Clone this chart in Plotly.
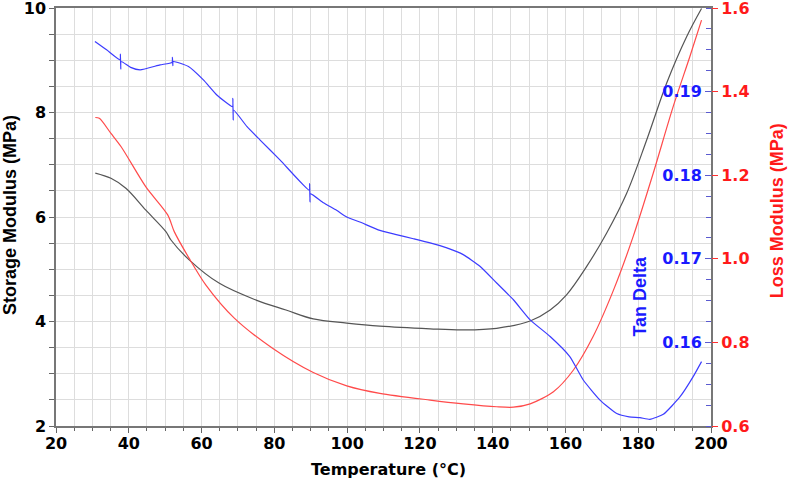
import plotly.graph_objects as go

# Storage modulus (MPa)
t_storage = [30.8, 35.1, 39.2, 44.7, 50.2, 51.6, 56.6, 64.9, 75, 83.2, 90.7, 99.9, 109, 122.8,
             131.9, 141.1, 150.3, 155.8, 160.3, 165.8, 171.3, 176.8, 182.3, 187.8, 193.3, 197.4]
storage = [6.84, 6.74, 6.55, 6.13, 5.72, 5.56, 5.18, 4.73, 4.41, 4.22, 4.05, 3.97, 3.91, 3.86,
           3.84, 3.87, 4.01, 4.22, 4.51, 5.05, 5.69, 6.45, 7.47, 8.56, 9.45, 9.99]

# Loss modulus (MPa)
t_loss = [30.8, 31.9, 35.1, 37.9, 44.7, 50.7, 52.5, 56.6, 61.2, 69, 79.5, 90.7, 99.9, 109, 122.8,
          131.9, 141.1, 145.7, 150.3, 156.7, 162.2, 167.6, 173.2, 178.6, 184.1, 189.6, 194.2, 197.4]
loss = [1.338, 1.336, 1.300, 1.268, 1.172, 1.105, 1.065, 1.001, 0.937, 0.858, 0.786, 0.728, 0.696,
        0.678, 0.662, 0.653, 0.646, 0.645, 0.653, 0.682, 0.734, 0.814, 0.925, 1.053, 1.204, 1.364,
        1.484, 1.571]

# Tan delta
t_tan = [30.7, 33.9, 37.6, 37.7, 37.8, 37.9, 40.5, 43.1, 48.6, 51.9, 52.0, 52.1, 52.2, 56.4,
         60.5, 64.2, 68.5, 68.6, 68.7, 68.8, 72.5, 76.1, 81.6, 89.6, 89.7, 89.8, 89.9, 93.5,
         97.1, 99.9, 103.5, 109, 113.5, 118.2, 122.8, 127.4, 131.9, 136.5, 141.1, 145.7, 150.3,
         155.8, 161.2, 164.9, 169.5, 174.1, 177.5, 180.5, 183.2, 186.9, 191.5, 195.1, 197.4]
tan_delta = [0.1960, 0.1950, 0.1938, 0.1945, 0.1927, 0.1936, 0.1929, 0.1926, 0.1932, 0.1935,
             0.1941, 0.1931, 0.1936, 0.1930, 0.1914, 0.1896, 0.1882, 0.1892, 0.1866, 0.1878,
             0.1858, 0.1842, 0.1818, 0.1782, 0.1790, 0.1768, 0.1778, 0.1767, 0.1758, 0.1750,
             0.1744, 0.1734, 0.1729, 0.1724, 0.1719, 0.1713, 0.1705, 0.1691, 0.1671, 0.1651,
             0.1627, 0.1607, 0.1583, 0.1555, 0.1531, 0.1515, 0.1511, 0.1510, 0.1508, 0.1514,
             0.1535, 0.1559, 0.1577]

x_ticks = [20, 40, 60, 80, 100, 120, 140, 160, 180, 200]
storage_ticks = [2, 4, 6, 8, 10]
loss_ticks = [0.6, 0.8, 1.0, 1.2, 1.4, 1.6]
loss_labels = ["0.6", "0.8", "1.0", "1.2", "1.4", "1.6"]
tan_ticks = [0.16, 0.17, 0.18, 0.19]

TICKFONT = "DejaVu Sans"
TITLEFONT = "Liberation Sans"
GRID = "#dddddd"

fig = go.Figure()
fig.add_trace(go.Scatter(x=t_storage, y=storage, mode="lines", yaxis="y",
                         line=dict(color="#555555", width=1.2, shape="spline", smoothing=1.0)))
fig.add_trace(go.Scatter(x=t_loss, y=loss, mode="lines", yaxis="y2",
                         line=dict(color="#ff4a4a", width=1.2, shape="spline", smoothing=0.8)))
fig.add_trace(go.Scatter(x=t_tan, y=tan_delta, mode="lines", yaxis="y3",
                         line=dict(color="#3c3cff", width=1.2, shape="spline", smoothing=0.5)))

fig.update_layout(
    width=789, height=484,
    margin=dict(l=56, r=78, t=8, b=58),
    paper_bgcolor="white", plot_bgcolor="white",
    showlegend=False,
    xaxis=dict(range=[20, 200], tickvals=x_ticks, showgrid=True, gridcolor=GRID, gridwidth=1,
               minor=dict(dtick=5, showgrid=True, gridcolor=GRID, ticks="outside", ticklen=3,
                          tickcolor="#666666"),
               ticks="outside", ticklen=5, tickcolor="#666666", automargin=False,
               ticklabeloverflow="allow", ticklabelstandoff=-3,
               showline=True, linecolor="#777777", linewidth=1.5, mirror=True,
               tickfont=dict(family=TICKFONT, size=16, color="black", weight="bold"),
               zeroline=False),
    yaxis=dict(range=[2, 10], tickvals=storage_ticks, showgrid=True, gridcolor=GRID,
               minor=dict(dtick=0.5, showgrid=True, gridcolor=GRID, ticks="outside", ticklen=5,
                          tickcolor="#666666"),
               ticks="outside", ticklen=5, tickcolor="#666666", automargin=False,
               ticklabeloverflow="allow",
               showline=True, linecolor="#777777", linewidth=1.5, mirror=True,
               tickfont=dict(family=TICKFONT, size=16, color="black", weight="bold"),
               zeroline=False),
    yaxis2=dict(range=[0.6, 1.6], tickvals=loss_ticks, ticktext=loss_labels, overlaying="y",
                side="right", anchor="x", showgrid=False, zeroline=False, automargin=False,
                ticklabeloverflow="allow",
                ticks="outside", ticklen=6, tickcolor="#ff3030",
                tickfont=dict(family=TICKFONT, size=16, color="#ff1a1a", weight="bold")),
    yaxis3=dict(range=[0.15, 0.20], tickvals=tan_ticks, overlaying="y", side="left",
                anchor="free", position=1.0,
                showgrid=False, zeroline=False, ticks="outside", ticklen=6, tickcolor="#5a5ad0",
                automargin=False, ticklabeloverflow="allow", showline=False,
                minor=dict(dtick=0.0025, ticks="outside", ticklen=5, tickcolor="#5a5ad0"),
                tickfont=dict(family=TICKFONT, size=16, color="#1a1aff", weight="bold")),
    annotations=[
        dict(text="Storage Modulus (MPa)", xref="paper", yref="paper", x=-0.0702, y=0.505,
             textangle=-90, showarrow=False, xanchor="center", yanchor="middle",
             font=dict(family=TITLEFONT, size=18, color="black", weight="bold")),
        dict(text="Loss Modulus (MPa)", xref="paper", yref="paper", x=1.1008, y=0.514,
             textangle=-90, showarrow=False, xanchor="center", yanchor="middle",
             font=dict(family=TITLEFONT, size=18, color="#ff1a1a", weight="bold")),
        dict(text="Tan Delta", xref="paper", yref="paper", x=0.8916, y=0.312,
             textangle=-90, showarrow=False, xanchor="center", yanchor="middle",
             font=dict(family=TITLEFONT, size=18, color="#1a1aff", weight="bold")),
        dict(text="Temperature (°C)", xref="paper", yref="paper", x=0.508, y=-0.105,
             showarrow=False, xanchor="center", yanchor="middle",
             font=dict(family=TICKFONT, size=16, color="black", weight="bold")),
    ],
)

fig.write_html("out.html", config={"displayModeBar": False},
               post_script="document.body.style.margin='0';")
